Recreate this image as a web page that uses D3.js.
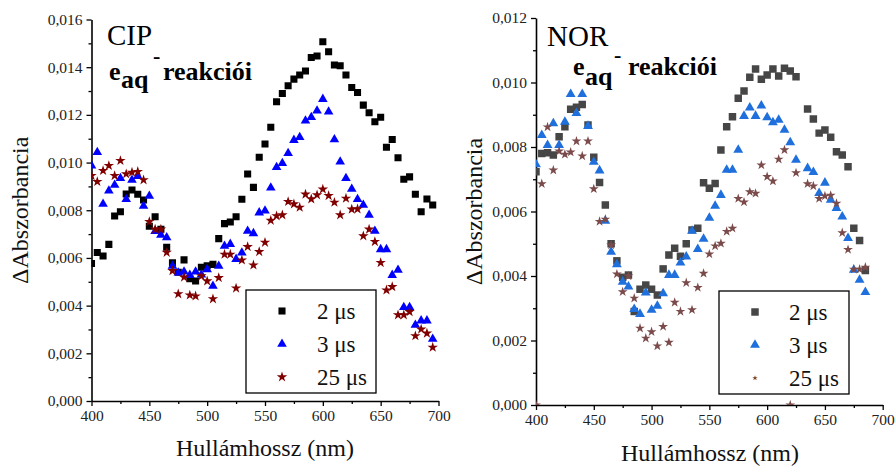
<!DOCTYPE html>
<html>
<head>
<meta charset="utf-8">
<script src="https://cdn.jsdelivr.net/npm/d3@7"></script>
<style>
body { margin: 0; background: #fff; }
svg { display: block; }
.axis path, .axis line { stroke: #000; }
.axis text { fill: #222; font-size: 15.5px; }
</style>
</head>
<body>
<svg id="chart" width="896" height="468" font-family="Liberation Serif, Times New Roman, serif"></svg>
<script>
// wavelengths (nm)
const wavelengthsCip = [400, 405, 410, 415, 420, 425, 430, 435, 440, 445, 450, 455, 460, 465, 470, 475,
	480, 485, 490, 495, 500, 505, 510, 515, 520, 525, 530, 535, 540, 545, 550, 555, 560, 565, 570, 575,
	580, 585, 590, 595, 600, 605, 610, 615, 620, 625, 630, 635, 640, 645, 650, 655, 660, 665, 670, 675,
	680, 685, 690, 695];
const wavelengthsNor = [400, 405, 410, 415, 420, 425, 430, 435, 440, 445, 450, 455, 460, 465, 470, 475,
	480, 485, 490, 495, 500, 505, 510, 515, 520, 525, 530, 535, 540, 545, 550, 555, 560, 565, 570, 575,
	580, 585, 590, 595, 600, 605, 610, 615, 620, 625, 630, 635, 640, 645, 650, 655, 660, 665, 670, 675,
	680, 685];

// CIP, delta absorbance
const cip2us = [0.00577, 0.00623, 0.00608, 0.00657, 0.00776, 0.00794, 0.00868, 0.00885, 0.00867, 0.00843,
	0.00733, 0.00773, 0.0072, 0.00645, 0.0058, 0.0054, 0.00592, 0.00513, 0.00503, 0.00561,
	0.00567, 0.00573, 0.00681, 0.00744, 0.00751, 0.00773, 0.00846, 0.00952, 0.00896, 0.01022,
	0.01078, 0.01148, 0.01255, 0.0129, 0.01322, 0.0135, 0.01367, 0.01384, 0.01441, 0.01447,
	0.01507, 0.01465, 0.01409, 0.01406, 0.01367, 0.01315, 0.01294, 0.01241, 0.01209, 0.01171,
	0.0119, 0.01064, 0.01097, 0.0102, 0.0093, 0.0094, 0.00867, 0.00794, 0.00847, 0.00822];
const cip3us = [0.00987, 0.01043, 0.00826, 0.00882, 0.00906, 0.00934, 0.00846, 0.00927, 0.00943, 0.00818,
	0.0086, 0.00712, 0.00696, 0.00686, 0.00566, 0.00538, 0.00542, 0.00528, 0.00542, 0.0053,
	0.00552, 0.00482, 0.00566, 0.0065, 0.00658, 0.00595, 0.00622, 0.00713, 0.00703, 0.0079,
	0.00798, 0.00894, 0.0098, 0.00997, 0.01039, 0.01094, 0.01106, 0.01175, 0.0119, 0.01217,
	0.01266, 0.01213, 0.01097, 0.01003, 0.00934, 0.00889, 0.00846, 0.00822, 0.0078, 0.00713,
	0.00636, 0.00636, 0.00528, 0.00549, 0.00393, 0.00393, 0.00319, 0.00337, 0.00337, 0.0026];
const cip25us = [0.00945, 0.0092, 0.00966, 0.00987, 0.00945, 0.01008, 0.00952, 0.00959, 0.00962, 0.00927,
	0.00752, 0.0072, 0.0072, 0.00623, 0.00546, 0.00449, 0.00519, 0.00444, 0.0044, 0.00524,
	0.00503, 0.00428, 0.00517, 0.00615, 0.00615, 0.00473, 0.00591, 0.00647, 0.0057, 0.00626,
	0.00665, 0.00757, 0.00776, 0.0078, 0.00836, 0.00826, 0.00812, 0.00867, 0.00847, 0.00864,
	0.00888, 0.00861, 0.00833, 0.0078, 0.0085, 0.00804, 0.00805, 0.00692, 0.0072, 0.00668,
	0.0058, 0.00465, 0.00479, 0.00361, 0.00361, 0.00374, 0.00273, 0.00301, 0.00284, 0.00225];

// NOR, delta absorbance (null = no point)
const nor2us = [0.00723, 0.0078, 0.00782, 0.00775, 0.00832, 0.00863, 0.00917, 0.00923, 0.00932, 0.00868,
	0.00768, 0.0069, 0.0062, 0.005, 0.00447, 0.00396, 0.00403, 0.0029, 0.00359, 0.00372,
	0.00359, 0.00341, 0.00422, 0.00465, 0.00486, 0.00461, 0.005, 0.00543, 0.00548, 0.00689,
	0.00672, 0.00687, 0.00791, 0.00863, 0.00894, 0.00951, 0.00974, 0.01016, 0.01042, 0.0101,
	0.01023, 0.01042, 0.0102, 0.01044, 0.01036, 0.01018, null, 0.00918, 0.00887, 0.00843,
	0.00853, 0.0083, 0.00785, 0.00775, 0.00739, 0.00548, 0.0051, 0.00417];
const nor3us = [0.00746, 0.00837, 0.00806, 0.00873, 0.00806, 0.00878, 0.00964, 0.00905, 0.00964, 0.00865,
	0.00754, 0.00727, 0.00571, 0.00475, 0.00436, 0.00382, 0.00367, 0.00297, 0.00282, 0.00348,
	0.00295, 0.00307, 0.00346, 0.00403, 0.00403, 0.00441, 0.0046, 0.0054, 0.00483, 0.00515,
	0.0058, 0.00617, 0.00651, 0.00729, 0.00729, 0.00791, 0.00896, 0.00922, 0.00896, 0.00928,
	0.00892, 0.00876, 0.00884, 0.00853, 0.00814, 0.0076, null, 0.00734, 0.00722, 0.00657,
	0.00689, 0.00636, 0.0061, 0.00584, 0.00517, 0.00419, 0.00388, 0.0035];
const nor25us = [0, 0.00686, 0.00862, 0.00728, 0.00787, 0.00777, 0.00784, 0.00818, 0.00772, 0.00818,
	0.0067, 0.00569, 0.00576, 0.00496, 0.00406, 0.00351, 0.004, 0.00331, 0.00238, 0.00207,
	0.00227, 0.00183, 0.00243, 0.00194, 0.00318, 0.0029, 0.00379, 0.00295, 0.00364, 0.00408,
	0.00468, 0.00493, 0.00501, 0.00538, 0.00548, 0.0064, 0.00629, 0.00661, 0.00656, 0.00744,
	0.00708, 0.00694, 0.00762, 0.00791, 0, 0.0072, null, 0.00686, 0.00679, 0.0064,
	0.00648, 0.0065, 0.00625, 0.00534, 0.00482, 0.00421, 0.00421, 0.00427];

const seriesLabels = ["2 \u03bcs", "3 \u03bcs", "25 \u03bcs"];
const xTicks = [400, 450, 500, 550, 600, 650, 700];
const xMinorTicks = [425, 475, 525, 575, 625, 675];
const cipYTicks = [0, 0.002, 0.004, 0.006, 0.008, 0.010, 0.012, 0.014, 0.016];
const cipYMinor = [0.001, 0.003, 0.005, 0.007, 0.009, 0.011, 0.013, 0.015];
const norYTicks = [0, 0.002, 0.004, 0.006, 0.008, 0.010, 0.012];
const norYMinor = [0.001, 0.003, 0.005, 0.007, 0.009, 0.011];

const serif = "Liberation Serif, Times New Roman, serif";

const panels = [
	{
		id: "cip", left: 91.5, right: 438.5, top: 19.5, bottom: 401,
		yTicks: cipYTicks, yMinor: cipYMinor, wl: wavelengthsCip,
		series: [cip2us, cip3us, cip25us],
		colors: ["#000000", "#0000ff", "#800000"],
		sizes: [50, 40, 34], legendSizes: [50, 40, 34],
		name: "CIP", nameX: 107, nameY: 45,
		eX: 109, eY: 80, subY: 88, supX: 153, supY: 63, reX: 163,
		yTitleX: 28, xTitleX: 265, xTitleY: 456,
		legend: {x: 246, y: 290, w: 130, h: 103, symX: 282, textX: 317}
	},
	{
		id: "nor", left: 536, right: 882.7, top: 18, bottom: 405,
		yTicks: norYTicks, yMinor: norYMinor, wl: wavelengthsNor,
		series: [nor2us, nor3us, nor25us],
		colors: ["#464646", "#1f6fdc", "#7b4b4b"],
		sizes: [56, 42, 30], legendSizes: [56, 42, 9],
		name: "NOR", nameX: 547, nameY: 46,
		eX: 573, eY: 75, subY: 85, supX: 614, supY: 62, reX: 628,
		yTitleX: 482, xTitleX: 710, xTitleY: 461,
		legend: {x: 719, y: 291, w: 130, h: 103, symX: 755, textX: 789}
	}
];

const shapes = [d3.symbolSquare, d3.symbolTriangle, d3.symbolStar];
const legendStarColor = {cip: "#800000", nor: "#7a3b1c"};

const svg = d3.select("#chart");
const fmtY = d => d3.format(".3f")(d).replace(".", ",");

panels.forEach(drawPanel);

function drawPanel(p) {
	const x = d3.scaleLinear().domain([400, 700]).range([p.left, p.right]);
	const y = d3.scaleLinear().domain([0, p.yTicks[p.yTicks.length - 1]]).range([p.bottom, p.top]);
	const g = svg.append("g").attr("class", "panel-" + p.id);

	// clip marks to the plot area
	g.append("clipPath").attr("id", "clip-" + p.id)
		.append("rect")
			.attr("x", p.left).attr("y", p.top)
			.attr("width", p.right - p.left).attr("height", p.bottom - p.top);

	// minor ticks first, then major axes
	g.append("g").attr("class", "axis")
		.attr("transform", `translate(0,${p.bottom})`)
		.call(d3.axisBottom(x).tickValues(xMinorTicks).tickSize(3).tickFormat(""))
		.call(a => a.select(".domain").remove());
	g.append("g").attr("class", "axis")
		.attr("transform", `translate(${p.left},0)`)
		.call(d3.axisLeft(y).tickValues(p.yMinor).tickSize(3).tickFormat(""))
		.call(a => a.select(".domain").remove());

	g.append("g").attr("class", "axis")
		.attr("transform", `translate(0,${p.bottom})`)
		.call(d3.axisBottom(x).tickValues(xTicks).tickSize(5).tickSizeOuter(0).tickPadding(4).tickFormat(d3.format("d")));
	g.append("g").attr("class", "axis")
		.attr("transform", `translate(${p.left},0)`)
		.call(d3.axisLeft(y).tickValues(p.yTicks).tickSize(5).tickSizeOuter(0).tickPadding(4).tickFormat(fmtY));
	g.selectAll(".axis").attr("font-family", serif);
	g.selectAll(".axis .domain").attr("stroke-width", 1.6);
	g.selectAll(".axis line").attr("stroke-width", 1.3);

	// markers, one layer per series
	p.series.forEach((vals, i) => {
		const pts = p.wl.map((w, k) => ({w: w, v: vals[k]})).filter(d => d.v !== null);
		g.append("g")
			.attr("clip-path", `url(#clip-${p.id})`)
			.selectAll("path")
			.data(pts)
			.enter()
			.append("path")
				.attr("transform", d => `translate(${x(d.w)},${y(d.v)})`)
				.attr("d", d3.symbol().type(shapes[i]).size(p.sizes[i]))
				.attr("fill", p.colors[i]);
	});

	// axis titles
	g.append("text")
		.attr("transform", `translate(${p.yTitleX},${(p.top + p.bottom) / 2}) rotate(-90)`)
		.attr("text-anchor", "middle")
		.attr("font-family", serif)
		.attr("font-size", 24)
		.attr("fill", "#111")
		.text("\u0394Abszorbancia");
	g.append("text")
		.attr("x", p.xTitleX).attr("y", p.xTitleY)
		.attr("text-anchor", "middle")
		.attr("font-family", serif)
		.attr("font-size", 24)
		.attr("fill", "#111")
		.text("Hull\u00e1mhossz (nm)");

	// panel title
	g.append("text")
		.attr("x", p.nameX).attr("y", p.nameY)
		.attr("font-family", serif)
		.attr("font-size", 29)
		.text(p.name);
	const sub = g.append("g").attr("font-weight", "bold").attr("font-size", 26).attr("font-family", serif);
	sub.append("text").attr("x", p.eX).attr("y", p.eY).text("e");
	sub.append("text").attr("x", p.eX + 12).attr("y", p.subY).text("aq");
	sub.append("text").attr("x", p.supX).attr("y", p.supY).attr("font-size", 22).text("-");
	sub.append("text").attr("x", p.reX).attr("y", p.eY).text("reakci\u00f3i");

	// legend
	const L = p.legend;
	const lg = g.append("g").attr("font-family", serif);
	lg.append("rect")
		.attr("x", L.x).attr("y", L.y).attr("width", L.w).attr("height", L.h)
		.attr("fill", "#fff").attr("stroke", "#000").attr("stroke-width", 1.3);
	seriesLabels.forEach((label, i) => {
		const cy = L.y + 21 + i * 33;
		lg.append("path")
			.attr("transform", `translate(${L.symX},${cy})`)
			.attr("d", d3.symbol().type(shapes[i]).size(p.legendSizes[i]))
			.attr("fill", i === 2 ? legendStarColor[p.id] : p.colors[i]);
		lg.append("text")
			.attr("x", L.textX).attr("y", cy + 8)
			.attr("font-size", 23)
			.attr("fill", "#111")
			.text(label);
	});
}
</script>
</body>
</html>
